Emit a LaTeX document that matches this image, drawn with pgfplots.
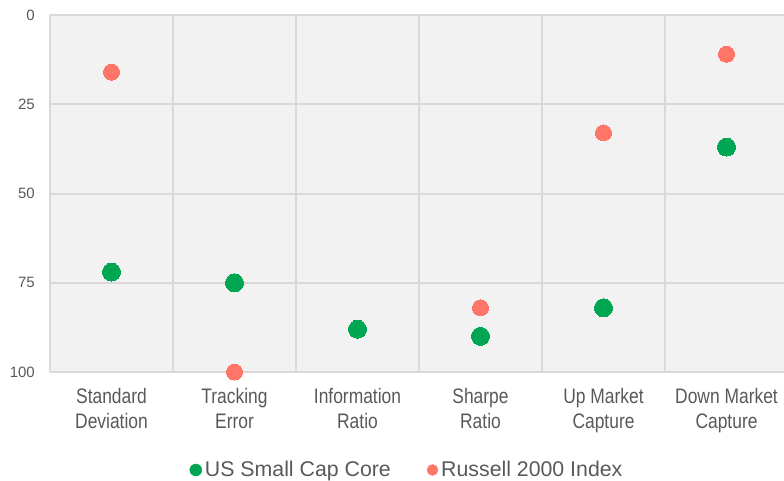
\documentclass[border=0pt]{standalone}
\usepackage{fontspec}
\setmainfont{Liberation Sans}
\newfontfamily\narrowfont[FakeStretch=0.83]{Liberation Sans}
\usepackage{pgfplots}
\pgfplotsset{compat=1.18}

\definecolor{coregreen}{HTML}{00A651}
\definecolor{russred}{HTML}{FF7568}
\definecolor{bgfill}{HTML}{F2F2F2}
\definecolor{gridgray}{HTML}{D9D9D9}
\definecolor{labelgray}{HTML}{595959}

\begin{document}
\begin{tikzpicture}
\begin{axis}[
    scale only axis,
    width=738pt, height=357pt,
    xmin=-0.5, xmax=5.5,
    ymin=0, ymax=100,
    y dir=reverse,
    clip=false,
    axis background/.style={fill=bgfill},
    axis line style={draw=none},
    xtick={0,1,2,3,4,5},
    xticklabels={{Standard\\Deviation},{Tracking\\Error},{Information\\Ratio},{Sharpe\\Ratio},{Up Market\\Capture},{Down Market\\Capture}},
    minor xtick={-0.5,0.5,1.5,2.5,3.5,4.5},
    ytick={0,25,50,75,100},
    ymajorgrids, xminorgrids,
    grid style={gridgray, line width=2pt},
    minor grid style={gridgray, line width=2pt},
    major tick length=0pt, minor tick length=0pt,
    /pgf/number format/assume math mode=true,
    yticklabel style={anchor=east, inner sep=0pt, xshift=-15pt,
        font=\fontsize{15}{17}\selectfont, text=labelgray},
    xticklabel style={anchor=north, inner sep=0pt, yshift=-16pt, align=center,
        font=\narrowfont\fontsize{21}{25}\selectfont, text=labelgray},
    legend style={at={(0.4844,-0.2745)}, anchor=center, draw=none, fill=none,
        legend columns=2, font=\fontsize{21.3}{25}\selectfont, text=labelgray,
        nodes={inner sep=3pt},
        /tikz/every even column/.append style={column sep=33pt}},
]
\addplot[only marks, color=coregreen, mark=*, mark size=9pt,
    mark options={draw=coregreen, fill=coregreen, line width=0pt},
    legend image code/.code={\fill[coregreen] (0pt,0pt) circle (6pt);}]
    coordinates {(0,72) (1,75) (2,88) (3,90) (4,82) (5,37)};
\addlegendentry{US Small Cap Core}
\addplot[only marks, color=russred, mark=*, mark size=8pt,
    mark options={draw=russred, fill=russred, line width=0pt},
    legend image code/.code={\fill[russred] (0pt,0pt) circle (5.5pt);}]
    coordinates {(0,16) (1,100) (3,82) (4,33) (5,11)};
\addlegendentry{Russell 2000 Index}
\end{axis}
\pgfresetboundingbox
\useasboundingbox (-50pt,-108pt) rectangle (734pt,372pt);
\end{tikzpicture}
\end{document}
